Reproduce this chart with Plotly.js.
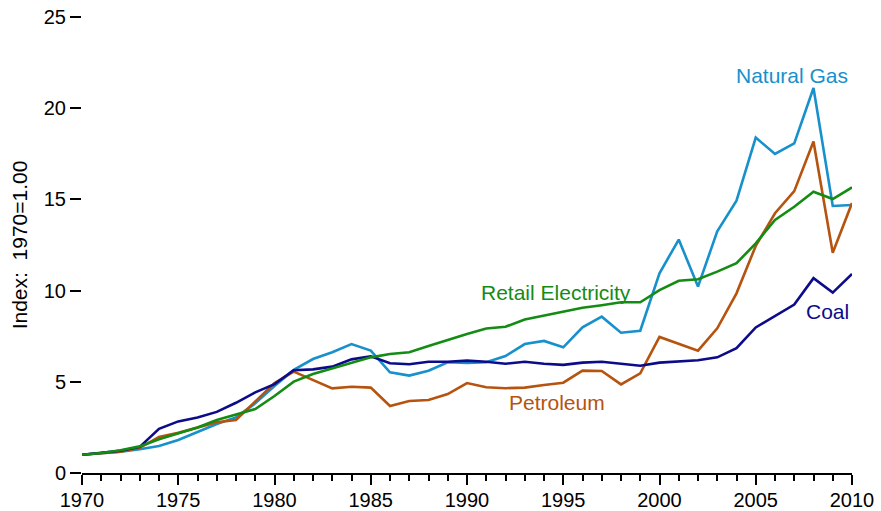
<!DOCTYPE html>
<html>
<head>
<meta charset="utf-8">
<script src="https://cdn.plot.ly/plotly-3.0.1.min.js"></script>
<style>html,body{margin:0;padding:0;background:#fff;}#chart{width:881px;height:511px;}</style>
</head>
<body>
<div id="chart"></div>
<script>
const years = [1970,1971,1972,1973,1974,1975,1976,1977,1978,1979,1980,1981,1982,1983,1984,1985,1986,1987,1988,1989,1990,1991,1992,1993,1994,1995,1996,1997,1998,1999,2000,2001,2002,2003,2004,2005,2006,2007,2008,2009,2010];

const coal = [1.0,1.09,1.22,1.43,2.42,2.83,3.04,3.35,3.85,4.42,4.87,5.63,5.68,5.83,6.23,6.4,6.02,5.96,6.1,6.1,6.16,6.1,5.99,6.1,5.99,5.93,6.05,6.1,6.0,5.88,6.05,6.1,6.18,6.34,6.84,7.98,8.62,9.23,10.68,9.89,10.91];

const petroleum = [1.0,1.08,1.17,1.38,1.98,2.2,2.5,2.78,2.91,3.9,4.93,5.56,5.1,4.64,4.73,4.68,3.67,3.95,4.0,4.33,4.93,4.7,4.65,4.68,4.82,4.95,5.61,5.59,4.86,5.46,7.46,7.07,6.71,7.93,9.85,12.45,14.24,15.45,18.17,12.08,14.8];

const naturalGas = [1.0,1.07,1.17,1.3,1.48,1.81,2.27,2.69,3.05,3.82,4.77,5.65,6.25,6.62,7.07,6.71,5.52,5.34,5.61,6.07,6.03,6.07,6.41,7.07,7.24,6.89,7.99,8.57,7.69,7.8,10.95,12.8,10.22,13.25,14.93,18.39,17.49,18.07,21.11,14.64,14.69];

const retailElectricity = [1.0,1.1,1.25,1.46,1.85,2.17,2.5,2.91,3.23,3.51,4.22,5.01,5.43,5.74,6.05,6.34,6.52,6.62,6.96,7.31,7.62,7.92,8.02,8.42,8.62,8.84,9.06,9.2,9.36,9.36,10.03,10.54,10.62,11.04,11.5,12.59,13.87,14.6,15.42,15.02,15.66];

const seriesNames = ["Coal","Petroleum","Natural Gas","Retail Electricity"];
const seriesColors = ["#0c0c8a","#b5530f","#1790cc","#148c14"];
const seriesValues = [coal, petroleum, naturalGas, retailElectricity];

const labelX = [2008.75, 1994.65, 2006.9, 1994.6];
const labelY = [8.88, 3.84, 21.77, 9.92];

const xTickVals = [1970,1975,1980,1985,1990,1995,2000,2005,2010];
const yTickVals = [0,5,10,15,20,25];

const traces = [2,1,0,3].map(i => ({
  x: years, y: seriesValues[i], type: 'scatter', mode: 'lines',
  name: seriesNames[i], line: {color: seriesColors[i], width: 2.6},
  cliponaxis: false, hoverinfo: 'skip'
}));

const annotations = seriesNames.map((n, i) => ({
  x: labelX[i], y: labelY[i], xref: 'x', yref: 'y', text: n,
  showarrow: false, font: {family: 'Liberation Sans, Arial, sans-serif', size: 21, color: seriesColors[i]}
}));

const layout = {
  width: 881, height: 511,
  margin: {l: 82, r: 29, t: 17, b: 38},
  paper_bgcolor: '#fff', plot_bgcolor: '#fff',
  showlegend: false,
  font: {family: 'Liberation Sans, Arial, sans-serif', size: 20, color: '#000'},
  xaxis: {
    range: [1970, 2010], tickvals: xTickVals, ticktext: xTickVals.map(String),
    showgrid: false, zeroline: false, showline: true, linecolor: '#000', linewidth: 2,
    ticks: 'outside', ticklen: 10, tickwidth: 2, tickcolor: '#000',
    ticklabelstandoff: -2,
    minor: {dtick: 1, tick0: 1970, ticks: 'outside', ticklen: 6, tickwidth: 2, tickcolor: '#000', showgrid: false},
    tickfont: {size: 20}
  },
  yaxis: {
    range: [0, 25], tickvals: yTickVals, ticktext: yTickVals.map(String),
    showgrid: false, zeroline: false, showline: false,
    ticks: 'outside', ticklen: 11, tickwidth: 2, tickcolor: '#000',
    tickfont: {size: 20},
    title: {text: 'Index:  1970=1.00', font: {size: 21}, standoff: 10}
  },
  annotations: annotations
};

Plotly.newPlot('chart', traces, layout, {staticPlot: true, displayModeBar: false});
</script>
</body>
</html>
